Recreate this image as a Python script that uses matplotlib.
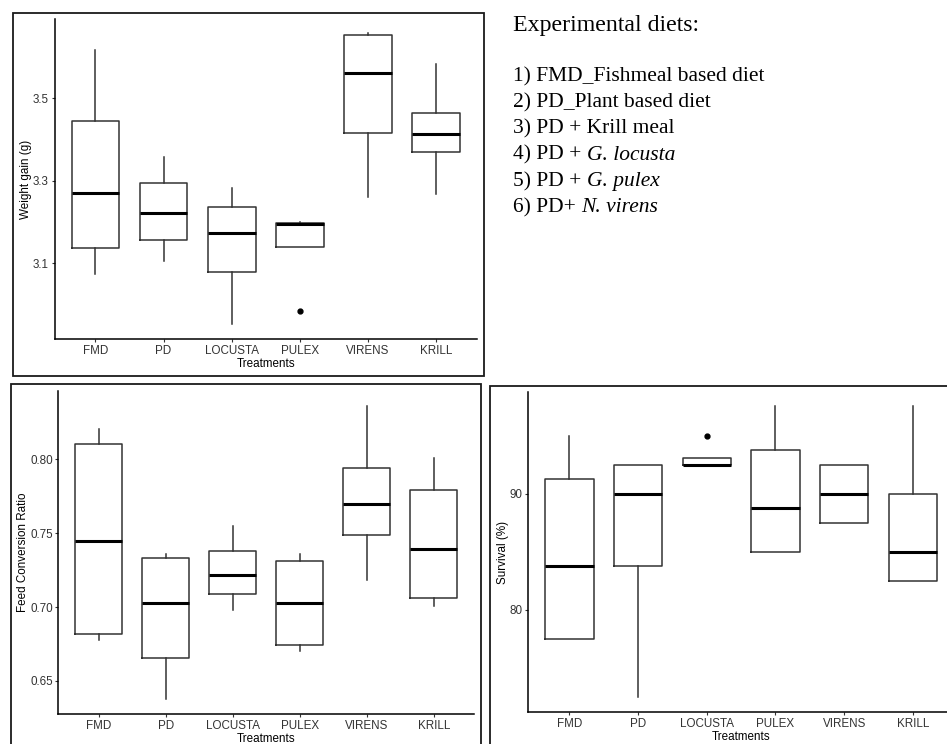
import matplotlib
matplotlib.use("Agg")
import matplotlib.pyplot as plt
from matplotlib.patches import Rectangle

W, H = 947, 744

treatments = ["FMD", "PD", "LOCUSTA", "PULEX", "VIRENS", "KRILL"]

# weight gain (g)
wg_whislo = [3.074, 3.106, 2.952, 3.140, 3.260, 3.267]
wg_q1 = [3.136, 3.156, 3.080, 3.140, 3.415, 3.369]
wg_med = [3.271, 3.223, 3.173, 3.195, 3.560, 3.413]
wg_q3 = [3.444, 3.294, 3.237, 3.197, 3.654, 3.463]
wg_whishi = [3.617, 3.357, 3.283, 3.201, 3.658, 3.583]
wg_fliers = [[], [], [], [2.985], [], []]

# feed conversion ratio
fcr_whislo = [0.678, 0.638, 0.698, 0.670, 0.718, 0.701]
fcr_q1 = [0.682, 0.6655, 0.709, 0.674, 0.749, 0.706]
fcr_med = [0.745, 0.703, 0.722, 0.703, 0.770, 0.739]
fcr_q3 = [0.810, 0.733, 0.738, 0.731, 0.794, 0.779]
fcr_whishi = [0.8205, 0.736, 0.755, 0.736, 0.836, 0.8006]
fcr_fliers = [[], [], [], [], [], []]

# survival (%)
sv_whislo = [77.5, 72.5, 92.5, 85.0, 87.5, 82.5]
sv_q1 = [77.5, 83.75, 92.5, 85.0, 87.5, 82.5]
sv_med = [83.75, 90.0, 92.5, 88.75, 90.0, 85.0]
sv_q3 = [91.25, 92.5, 93.1, 93.75, 92.5, 90.0]
sv_whishi = [95.0, 92.5, 93.1, 97.5, 92.5, 97.5]
sv_fliers = [[], [], [95.0], [], [], []]

# (upright part, italic part)
diet_lines = [
    ("1) FMD_Fishmeal based diet", ""),
    ("2) PD_Plant based diet", ""),
    ("3) PD + Krill meal", ""),
    ("4) PD + ", "G. locusta"),
    ("5) PD + ", "G. pulex"),
    ("6) PD+ ", "N. virens"),
]

plt.rcParams["font.family"] = ["Liberation Sans", "DejaVu Sans"]


def px_axes(fig, x0, y0, x1, y1):
    return fig.add_axes([x0 / W, 1 - y1 / H, (x1 - x0) / W, (y1 - y0) / H])


def frame(fig, x0, y0, x1, y1):
    fig.patches.append(Rectangle((x0 / W, 1 - y1 / H), (x1 - x0) / W, (y1 - y0) / H,
                                 transform=fig.transFigure, fill=False,
                                 edgecolor="#1a1a1a", linewidth=1.3))


def boxpanel(ax, lo, q1, med, q3, hi, fl, ylim, yticks, fmt, ylabel):
    stats = []
    for i, name in enumerate(treatments):
        stats.append(dict(label=name, whislo=lo[i], q1=q1[i], med=med[i],
                          q3=q3[i], whishi=hi[i], fliers=fl[i]))
    ax.bxp(stats, positions=range(1, 7), widths=0.7, showcaps=False,
           boxprops=dict(color="#333333", linewidth=1.1),
           whiskerprops=dict(color="#333333", linewidth=1.1),
           medianprops=dict(color="black", linewidth=2.2),
           flierprops=dict(marker="o", markerfacecolor="black",
                           markeredgecolor="black", markersize=3.5))
    ax.set_xlim(0.4, 6.6)
    ax.set_ylim(*ylim)
    ax.set_yticks(yticks)
    ax.set_yticklabels([fmt.format(v) for v in yticks])
    for s in ["top", "right"]:
        ax.spines[s].set_visible(False)
    for s in ["left", "bottom"]:
        ax.spines[s].set_linewidth(1.1)
        ax.spines[s].set_color("black")
    ax.tick_params(length=2.5, width=0.8, color="#333333", labelsize=8.4,
                   labelcolor="#333333", pad=1.5)
    ax.set_xlabel("Treatments", fontsize=8.4, labelpad=1)
    ax.set_ylabel(ylabel, fontsize=8.4, labelpad=0.5)


fig = plt.figure(figsize=(W / 100, H / 100), dpi=100)

frame(fig, 13, 13, 484, 376)
frame(fig, 11, 384, 481, 770)
frame(fig, 490, 386, 970, 770)

ax1 = px_axes(fig, 54.5, 19, 477, 339)
boxpanel(ax1, wg_whislo, wg_q1, wg_med, wg_q3, wg_whishi, wg_fliers,
         (2.9165, 3.692), [3.1, 3.3, 3.5], "{:.1f}", "Weight gain (g)")

ax2 = px_axes(fig, 58.3, 391, 474, 714)
boxpanel(ax2, fcr_whislo, fcr_q1, fcr_med, fcr_q3, fcr_whishi, fcr_fliers,
         (0.6276, 0.8462), [0.65, 0.70, 0.75, 0.80], "{:.2f}", "Feed Conversion Ratio")

ax3 = px_axes(fig, 528.3, 391.7, 954, 712.3)
boxpanel(ax3, sv_whislo, sv_q1, sv_med, sv_q3, sv_whishi, sv_fliers,
         (71.2, 98.77), [80, 90], "{:d}", "Survival (%)")

fig.text(513 / W, 1 - 31 / H, "Experimental diets:", family="Liberation Serif",
         fontsize=17.2, va="baseline", ha="left")

renderer = fig.canvas.get_renderer()
for i, (plain, ital) in enumerate(diet_lines):
    y = 1 - (81 + 26.3 * i) / H
    t = fig.text(513 / W, y, plain, family="Liberation Serif",
                 fontsize=15.5, va="baseline", ha="left")
    if ital:
        bb = t.get_window_extent(renderer)
        fig.text(bb.x1 / W, y, ital, family="Liberation Serif", style="italic",
                 fontsize=15.5, va="baseline", ha="left")

fig.savefig("out.png", dpi=100)
